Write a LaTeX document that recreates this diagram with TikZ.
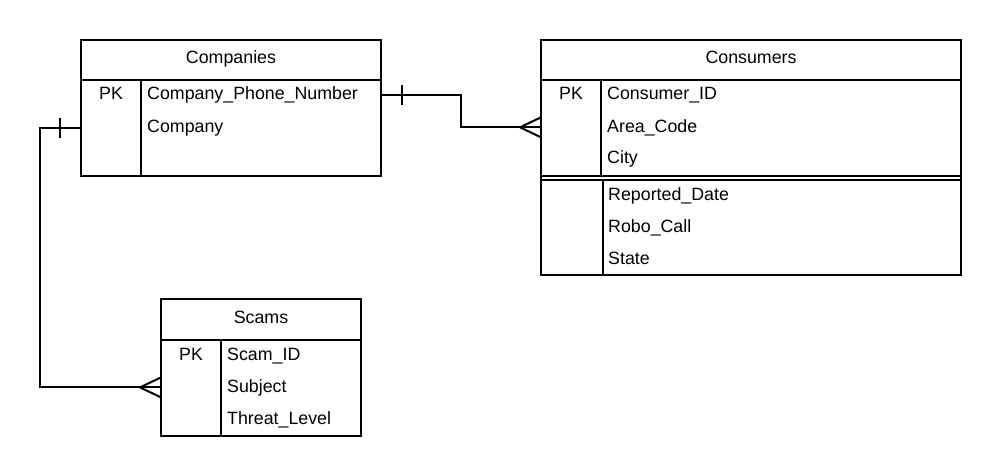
\documentclass[tikz,border=0pt]{standalone}
\usepackage{fontspec}
\setmainfont{Liberation Sans}
\tikzset{
  tbl/.style={draw,line width=2pt,rectangle,inner sep=0pt,outer sep=0pt,anchor=north west},
  txt/.style={inner sep=0pt,font=\fontsize{17.8}{20}\selectfont},
  hdr/.style={txt,anchor=base},
  fld/.style={txt,anchor=base west},
  key/.style={txt,anchor=base},
  lnk/.style={line width=2pt}
}
\begin{document}
\begin{tikzpicture}[x=1pt,y=-1pt]
\useasboundingbox (0,0) rectangle (1001,476);
% tables
\node[tbl,minimum width=300pt,minimum height=136pt] (companies) at (81,40) {};
\node[tbl,minimum width=420pt,minimum height=235pt] (consumers) at (541,40) {};
\node[tbl,minimum width=200pt,minimum height=137pt] (scams) at (161,299) {};
% companies
\draw[lnk] (81,80) -- (381,80);
\draw[lnk] (141,80) -- (141,176);
\node[hdr] (companiesT) at (231,64) {Companies};
\node[key] (companiesPK) at (111,100) {PK};
\node[fld] (cphone) at (147,100) {Company\_Phone\_Number};
\node[fld] (cname) at (147,132) {Company};
% consumers
\draw[lnk] (541,80) -- (961,80);
\draw[lnk] (541,176) -- (961,176);
\draw[lnk] (541,180) -- (961,180);
\draw[lnk] (601,80) -- (601,176);
\draw[lnk] (603,180) -- (603,275);
\node[hdr] (consumersT) at (751,64) {Consumers};
\node[key] (consumersPK) at (571,100) {PK};
\node[fld] (cid) at (607,100) {Consumer\_ID};
\node[fld] (carea) at (607,132) {Area\_Code};
\node[fld] (ccity) at (607,164) {City};
\node[fld] (cdate) at (608,200) {Reported\_Date};
\node[fld] (crobo) at (608,232) {Robo\_Call};
\node[fld] (cstate) at (608,264) {State};
% scams
\draw[lnk] (161,340) -- (361,340);
\draw[lnk] (221,340) -- (221,436);
\node[hdr] (scamsT) at (261,323) {Scams};
\node[key] (scamsPK) at (191,360) {PK};
\node[fld] (sid) at (227,360) {Scam\_ID};
\node[fld] (ssubj) at (227,392) {Subject};
\node[fld] (sthreat) at (227,424) {Threat\_Level};
% relations
\coordinate (r1a) at (companies.east |- cphone);
\coordinate (r1b) at (consumers.west |- carea);
\coordinate (r2a) at (companies.west |- cname);
\coordinate (r2b) at (scams.west |- ssubj);
\draw[lnk] (r1a) -- ++(80,0) |- (r1b);
\draw[lnk] (r1a) ++(21,-10) -- ++(0,20);
\draw[lnk] (r1b) ++(-21,0) -- ++(21,-10) (r1b) ++(-21,0) -- ++(21,10);
\draw[lnk] (r2a) -- ++(-41,0) |- (r2b);
\draw[lnk] (r2a) ++(-21,-10) -- ++(0,20);
\draw[lnk] (r2b) ++(-21,0) -- ++(21,-10) (r2b) ++(-21,0) -- ++(21,10);
\end{tikzpicture}
\end{document}
